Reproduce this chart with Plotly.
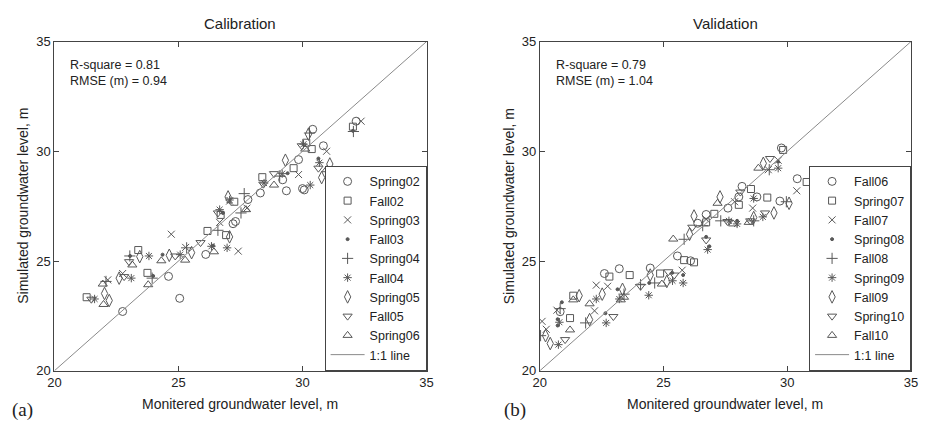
import plotly.graph_objects as go

# ---------------- Calibration data (monitored x, simulated y) ----------------
cal_names = ["Spring02", "Fall02", "Spring03", "Fall03", "Spring04", "Fall04",
             "Spring05", "Fall05", "Spring06"]

spring02_x = [22.75, 25.05, 24.6, 26.1, 27.2, 27.3, 27.8, 28.3, 29.35, 30.07, 29.84, 30.41, 30.84, 32.16, 30.0, 29.2]
spring02_y = [22.7, 23.3, 24.3, 25.3, 26.7, 26.8, 27.8, 28.1, 28.2, 28.24, 29.62, 31.0, 30.25, 31.37, 28.3, 28.7]
fall02_x = [21.3, 23.38, 23.75, 26.17, 26.7, 27.25, 28.38, 29.64, 30.15, 30.37, 32.03, 26.92]
fall02_y = [23.35, 25.5, 24.46, 26.37, 27.1, 27.7, 28.82, 29.23, 30.39, 30.1, 31.12, 26.18]
spring03_x = [24.71, 27.41, 22.15, 25.29, 26.66, 27.76, 29.84, 30.97, 32.36, 27.06, 22.75]
spring03_y = [26.22, 25.45, 24.14, 25.62, 26.76, 27.41, 28.94, 30.0, 31.37, 27.73, 24.43]
fall03_x = [24.36, 30.64, 29.4, 23.98, 23.05, 26.79, 32.03, 26.4]
fall03_y = [25.29, 29.67, 29.0, 24.32, 25.23, 27.19, 30.93, 25.7]
spring04_x = [23.04, 23.94, 25.33, 26.59, 27.65, 29.08, 30.28, 32.05, 22.08, 27.52]
spring04_y = [25.23, 24.22, 25.6, 26.4, 28.07, 28.87, 30.83, 30.9, 24.07, 27.19]
fall04_x = [21.62, 23.1, 23.81, 25.07, 26.33, 26.96, 26.66, 27.06, 28.45, 29.18, 30.04, 30.31, 30.68]
fall04_y = [23.27, 24.22, 25.23, 25.29, 25.67, 25.6, 27.34, 27.78, 28.55, 28.98, 30.32, 28.46, 29.48]
spring05_x = [22.21, 22.02, 22.61, 23.44, 24.63, 25.53, 27.06, 27.0, 29.31, 30.24, 31.1, 30.77]
spring05_y = [23.2, 23.52, 24.22, 25.2, 25.26, 25.38, 26.1, 27.92, 29.59, 30.78, 29.42, 28.8]
fall05_x = [21.49, 23.01, 22.81, 24.87, 25.89, 26.59, 28.42, 28.85, 29.97, 30.64]
fall05_y = [23.26, 24.97, 24.29, 25.23, 25.84, 27.19, 28.5, 28.98, 30.25, 29.23]
spring06_x = [21.95, 21.98, 23.14, 23.78, 24.31, 25.27, 26.43, 27.72, 28.85, 30.11, 30.97]
spring06_y = [23.95, 23.02, 24.82, 23.92, 25.01, 25.04, 25.42, 27.34, 28.46, 30.1, 29.16]

cal_x = [spring02_x, fall02_x, spring03_x, fall03_x, spring04_x, fall04_x, spring05_x, fall05_x, spring06_x]
cal_y = [spring02_y, fall02_y, spring03_y, fall03_y, spring04_y, fall04_y, spring05_y, fall05_y, spring06_y]

# ---------------- Validation data ----------------
val_names = ["Fall06", "Spring07", "Fall07", "Spring08", "Fall08", "Spring09",
             "Fall09", "Spring10", "Fall10"]

fall06_x = [22.61, 23.21, 24.46, 25.56, 26.09, 26.38, 26.72, 27.6, 28.17, 28.77, 29.7, 29.76, 30.4, 20.82, 28.04]
fall06_y = [24.43, 24.65, 24.68, 25.23, 25.01, 26.72, 27.12, 27.41, 28.4, 27.92, 27.73, 30.15, 28.75, 22.69, 27.92]
spring07_x = [21.22, 22.81, 23.63, 24.86, 25.83, 26.23, 27.05, 28.04, 28.53, 29.19, 29.83, 30.78, 21.35, 26.72]
spring07_y = [22.4, 24.29, 24.36, 24.43, 25.04, 24.94, 27.15, 27.56, 28.28, 27.89, 30.06, 28.6, 23.42, 26.76]
fall07_x = [20.09, 20.26, 20.69, 22.21, 22.28, 22.74, 25.75, 26.72, 27.87, 28.6, 29.23, 30.38, 29.63]
fall07_y = [22.25, 21.89, 22.76, 22.73, 23.9, 23.85, 24.58, 26.9, 27.7, 27.41, 29.16, 28.2, 29.59]
spring08_x = [20.72, 20.72, 20.89, 22.65, 23.14, 25.35, 25.79, 24.42, 26.85, 27.97, 29.63, 26.72]
spring08_y = [22.06, 22.35, 23.12, 22.62, 23.71, 24.46, 24.36, 24.0, 25.67, 26.83, 29.52, 26.1]
fall08_x = [20.03, 21.85, 23.4, 24.07, 24.64, 25.83, 26.58, 27.31, 28.64, 29.27, 29.96, 20.82]
fall08_y = [21.6, 22.18, 23.49, 23.92, 24.0, 25.99, 26.61, 26.83, 26.83, 29.16, 27.7, 22.83]
spring09_x = [20.75, 20.79, 22.68, 23.21, 24.4, 25.36, 25.79, 26.78, 27.64, 27.97, 28.64, 29.01, 29.63, 22.28]
spring09_y = [21.19, 22.21, 22.18, 23.27, 23.44, 24.1, 24.0, 25.52, 26.83, 26.69, 27.85, 27.01, 29.23, 23.27]
fall09_x = [20.42, 20.23, 21.59, 22.01, 22.52, 23.34, 24.46, 25.13, 26.05, 26.23, 27.28, 28.64, 29.46, 30.07, 29.03]
fall09_y = [21.24, 21.6, 23.42, 22.33, 23.49, 23.71, 24.36, 24.07, 26.22, 27.05, 27.92, 26.98, 27.19, 27.63, 29.45]
spring10_x = [21.02, 22.97, 24.07, 25.19, 25.43, 26.16, 26.72, 27.58, 28.5, 29.1, 29.3, 28.1]
spring10_y = [21.42, 22.47, 23.85, 24.51, 24.36, 26.54, 25.96, 26.8, 26.83, 27.19, 29.67, 28.14]
fall10_x = [21.22, 22.01, 21.35, 23.27, 24.93, 25.39, 27.18, 27.81, 28.44, 28.83, 23.4]
fall10_y = [21.86, 23.05, 23.23, 23.23, 23.95, 26.0, 27.63, 26.69, 26.76, 29.23, 23.35]

val_x = [fall06_x, spring07_x, fall07_x, spring08_x, fall08_x, spring09_x, fall09_x, spring10_x, fall10_x]
val_y = [fall06_y, spring07_y, fall07_y, spring08_y, fall08_y, spring09_y, fall09_y, spring10_y, fall10_y]

one_to_one = [20, 35]
tick_vals = [20, 25, 30, 35]
stats_cal = ["R-square = 0.81", "RMSE (m) = 0.94"]
stats_val = ["R-square = 0.79", "RMSE (m) = 1.04"]

# ---------------- Styling ----------------
symbols = ["circle-open", "square-open", "x-thin-open", "circle", "cross-thin-open",
           "asterisk-open", "diamond-tall-open", "triangle-down-open", "triangle-up-open"]
sizes = [8, 7, 7, 3, 8, 7, 9, 8, 8]
mcolor = "#585858"
FONT = "Liberation Sans, Arial, sans-serif"
SERIF = "Liberation Serif, Times New Roman, serif"

# The page body keeps the browser's 8px margin, so the figure is 16px smaller
# than the 931x434 window and positions are measured from that offset.
W, H, OFF = 915, 418, 8

def px(x):
    return (x - OFF) / W

def py(y):
    return 1 - (y - OFF) / H

fig = go.Figure()

def add_panel(xs, ys, names, xa, ya, leg):
    for i in range(len(names)):
        fig.add_trace(go.Scatter(
            x=xs[i], y=ys[i], mode="markers", name=names[i],
            xaxis=xa, yaxis=ya, legend=leg,
            marker=dict(symbol=symbols[i], size=sizes[i], color=mcolor,
                        line=dict(color=mcolor, width=1)),
        ))
    fig.add_trace(go.Scatter(
        x=one_to_one, y=one_to_one, mode="lines", name="1:1 line",
        xaxis=xa, yaxis=ya, legend=leg,
        line=dict(color="#8a8a8a", width=1),
    ))

add_panel(cal_x, cal_y, cal_names, "x", "y", "legend")
add_panel(val_x, val_y, val_names, "x2", "y2", "legend2")

ax_common = dict(range=[20, 35], tickvals=tick_vals, ticks="inside", ticklen=5,
                 tickcolor="#444", showline=True, linecolor="#444", linewidth=1,
                 mirror="ticks", showgrid=False, zeroline=False,
                 tickfont=dict(family=FONT, size=13, color="#222"))

yd = [py(377), py(35.5)]
xd1 = [px(48), px(426)]
xd2 = [px(541), px(918)]
leg_common = dict(yanchor="bottom", xanchor="right", y=yd[0],
                  bgcolor="white", bordercolor="#444", borderwidth=1,
                  font=dict(family=FONT, size=12.5, color="#222"), itemwidth=34,
                  tracegroupgap=0)
fig.update_layout(
    width=W, height=H,
    margin=dict(l=0, r=0, t=0, b=0),
    paper_bgcolor="white", plot_bgcolor="white",
    showlegend=True,
    xaxis=dict(domain=xd1, anchor="y", **ax_common),
    yaxis=dict(domain=yd, anchor="x", **ax_common),
    xaxis2=dict(domain=xd2, anchor="y2", **ax_common),
    yaxis2=dict(domain=yd, anchor="x2", **ax_common),
    legend=dict(x=xd1[1], **leg_common),
    legend2=dict(x=xd2[1], **leg_common),
)

c1 = (xd1[0] + xd1[1]) / 2
c2 = (xd2[0] + xd2[1]) / 2
annotations = [
    dict(text="Calibration", x=c1, y=py(17), font=dict(size=15)),
    dict(text="Validation", x=c2, y=py(17), font=dict(size=15)),
    dict(text="Monitered groundwater level, m", x=c1, y=py(411), font=dict(size=14)),
    dict(text="Monitered groundwater level, m", x=c2, y=py(411), font=dict(size=14)),
    dict(text="Simulated groundwater level, m", x=px(16), y=py(206), textangle=-90, font=dict(size=14)),
    dict(text="Simulated groundwater level, m", x=px(510), y=py(206), textangle=-90, font=dict(size=14)),
    dict(text="(a)", x=px(16), y=py(418), font=dict(size=19, family=SERIF)),
    dict(text="(b)", x=px(516), y=py(418), font=dict(size=19, family=SERIF)),
]
for a in annotations:
    a.update(xref="paper", yref="paper", showarrow=False, xanchor="center", yanchor="middle")
    a["font"] = dict(family=a["font"].get("family", FONT), size=a["font"]["size"], color="#222")

annotations.append(dict(text="<br>".join(stats_cal), x=20.56, y=34.35, xref="x", yref="y",
                        showarrow=False, xanchor="left", yanchor="top", align="left",
                        font=dict(family=FONT, size=12.5, color="#222")))
annotations.append(dict(text="<br>".join(stats_val), x=20.56, y=34.35, xref="x2", yref="y2",
                        showarrow=False, xanchor="left", yanchor="top", align="left",
                        font=dict(family=FONT, size=12.5, color="#222")))
fig.update_layout(annotations=annotations)

fig.write_html("out.html", config={"displayModeBar": False})
